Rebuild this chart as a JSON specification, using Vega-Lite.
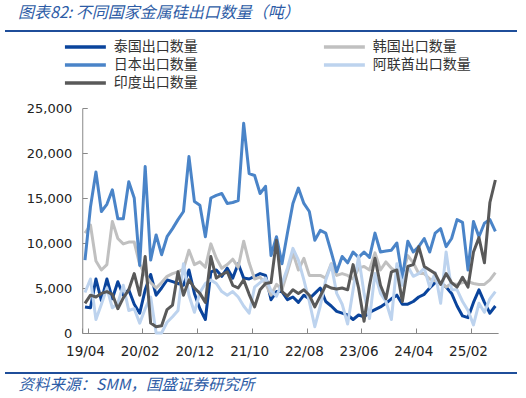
{
"$schema": "https://vega.github.io/schema/vega-lite/v6.json",
"width": 512, "height": 342,
"autosize": {"type": "none"},
"padding": {"left": 5, "top": 31, "right": 9, "bottom": 25},
"title": {"text": "图表82:  不同国家金属硅出口数量（吨）", "anchor": "start", "frame": "group", "dx": 13, "offset": 9, "font": "Noto Sans CJK SC", "fontSize": 16, "fontStyle": "italic", "fontWeight": "normal", "color": "#2d5ca6"},
"data": {"values": [
{"m":"19/04","th":2900,"kr":11100,"jp":8100,"ae":4500,"in":3300},
{"m":"19/05","th":2800,"kr":12000,"jp":14000,"ae":6000,"in":4200},
{"m":"19/06","th":6000,"kr":8000,"jp":17900,"ae":1500,"in":4000},
{"m":"19/07","th":3600,"kr":7000,"jp":13500,"ae":3200,"in":4400},
{"m":"19/08","th":6000,"kr":7600,"jp":14300,"ae":5000,"in":4600},
{"m":"19/09","th":3800,"kr":12400,"jp":15900,"ae":2800,"in":4300},
{"m":"19/10","th":5700,"kr":10500,"jp":12700,"ae":3300,"in":2700},
{"m":"19/11","th":4200,"kr":9900,"jp":12700,"ae":5300,"in":3900},
{"m":"19/12","th":4800,"kr":10100,"jp":16800,"ae":2500,"in":4800},
{"m":"20/01","th":3200,"kr":10100,"jp":15000,"ae":2700,"in":6600},
{"m":"20/02","th":2200,"kr":7600,"jp":7500,"ae":1100,"in":4200},
{"m":"20/03","th":4800,"kr":6500,"jp":18500,"ae":2700,"in":8500},
{"m":"20/04","th":6500,"kr":5600,"jp":8100,"ae":4000,"in":1100},
{"m":"20/05","th":4200,"kr":5000,"jp":10900,"ae":0,"in":700},
{"m":"20/06","th":5000,"kr":5600,"jp":8700,"ae":0,"in":800},
{"m":"20/07","th":5900,"kr":6300,"jp":10700,"ae":1200,"in":2600},
{"m":"20/08","th":5700,"kr":6600,"jp":11600,"ae":1800,"in":3100},
{"m":"20/09","th":5500,"kr":6800,"jp":12600,"ae":2500,"in":6800},
{"m":"20/10","th":5300,"kr":7100,"jp":13500,"ae":7700,"in":4200},
{"m":"20/11","th":7000,"kr":9200,"jp":19600,"ae":4200,"in":5900},
{"m":"20/12","th":4400,"kr":7600,"jp":14600,"ae":2300,"in":5000},
{"m":"21/01","th":2700,"kr":7900,"jp":14200,"ae":4500,"in":4400},
{"m":"21/02","th":1500,"kr":7300,"jp":10700,"ae":5500,"in":3400},
{"m":"21/03","th":6800,"kr":9900,"jp":15000,"ae":5900,"in":8500},
{"m":"21/04","th":7000,"kr":8300,"jp":15300,"ae":5500,"in":6100},
{"m":"21/05","th":6300,"kr":7200,"jp":15500,"ae":4600,"in":6500},
{"m":"21/06","th":7200,"kr":7600,"jp":14400,"ae":4200,"in":6800},
{"m":"21/07","th":6100,"kr":8200,"jp":14500,"ae":4600,"in":5300},
{"m":"21/08","th":7700,"kr":7300,"jp":14700,"ae":4000,"in":5000},
{"m":"21/09","th":6100,"kr":10200,"jp":23300,"ae":3000,"in":5900},
{"m":"21/10","th":6000,"kr":7800,"jp":17700,"ae":2200,"in":4300},
{"m":"21/11","th":6300,"kr":6000,"jp":17500,"ae":5100,"in":2900},
{"m":"21/12","th":6600,"kr":6200,"jp":15500,"ae":5600,"in":4800},
{"m":"22/01","th":6400,"kr":5500,"jp":16300,"ae":6100,"in":5500},
{"m":"22/02","th":3700,"kr":4200,"jp":8600,"ae":4700,"in":5600},
{"m":"22/03","th":4600,"kr":5400,"jp":10700,"ae":4100,"in":10300},
{"m":"22/04","th":4600,"kr":4800,"jp":7700,"ae":5500,"in":4600},
{"m":"22/05","th":3700,"kr":6800,"jp":11100,"ae":7200,"in":4100},
{"m":"22/06","th":4000,"kr":8900,"jp":14400,"ae":9400,"in":4800},
{"m":"22/07","th":3400,"kr":7000,"jp":16100,"ae":8100,"in":4400},
{"m":"22/08","th":4200,"kr":8300,"jp":14400,"ae":5900,"in":4800},
{"m":"22/09","th":3800,"kr":6400,"jp":13500,"ae":3500,"in":4200},
{"m":"22/10","th":4400,"kr":6400,"jp":10300,"ae":700,"in":2900},
{"m":"22/11","th":5000,"kr":6400,"jp":11400,"ae":3000,"in":4100},
{"m":"22/12","th":3500,"kr":6100,"jp":11100,"ae":5900,"in":5300},
{"m":"23/01","th":3000,"kr":7700,"jp":9000,"ae":7600,"in":5000},
{"m":"23/02","th":2400,"kr":6400,"jp":6800,"ae":4400,"in":4900},
{"m":"23/03","th":2200,"kr":6600,"jp":8500,"ae":3200,"in":5000},
{"m":"23/04","th":2000,"kr":6400,"jp":7800,"ae":1000,"in":4800},
{"m":"23/05","th":1500,"kr":6000,"jp":9000,"ae":4800,"in":7600},
{"m":"23/06","th":2000,"kr":7200,"jp":8400,"ae":8500,"in":5000},
{"m":"23/07","th":1800,"kr":7400,"jp":9000,"ae":4400,"in":1300},
{"m":"23/08","th":2300,"kr":7000,"jp":8400,"ae":1600,"in":5300},
{"m":"23/09","th":2600,"kr":8900,"jp":11100,"ae":6600,"in":8300},
{"m":"23/10","th":2900,"kr":7000,"jp":9000,"ae":4400,"in":5300},
{"m":"23/11","th":3300,"kr":7900,"jp":9100,"ae":3500,"in":3800},
{"m":"23/12","th":3800,"kr":7200,"jp":9200,"ae":1500,"in":6800},
{"m":"24/01","th":4200,"kr":6800,"jp":10000,"ae":7700,"in":7000},
{"m":"24/02","th":3200,"kr":6500,"jp":6100,"ae":5300,"in":3500},
{"m":"24/03","th":3200,"kr":8600,"jp":10200,"ae":7400,"in":7400},
{"m":"24/04","th":3500,"kr":7800,"jp":9000,"ae":6300,"in":7600},
{"m":"24/05","th":4000,"kr":6600,"jp":9600,"ae":6600,"in":9600},
{"m":"24/06","th":4300,"kr":6600,"jp":10500,"ae":7200,"in":7400},
{"m":"24/07","th":5000,"kr":6000,"jp":9000,"ae":5100,"in":7000},
{"m":"24/08","th":5600,"kr":5800,"jp":11100,"ae":6700,"in":6600},
{"m":"24/09","th":5600,"kr":5600,"jp":11600,"ae":3300,"in":5400},
{"m":"24/10","th":5100,"kr":5100,"jp":9600,"ae":9000,"in":6600},
{"m":"24/11","th":4400,"kr":5500,"jp":10500,"ae":4800,"in":5600},
{"m":"24/12","th":3000,"kr":5400,"jp":12600,"ae":4800,"in":5100},
{"m":"25/01","th":1900,"kr":5600,"jp":12300,"ae":3500,"in":6200},
{"m":"25/02","th":1700,"kr":5700,"jp":7000,"ae":2500,"in":5100},
{"m":"25/03","th":3400,"kr":5500,"jp":12400,"ae":900,"in":9000},
{"m":"25/04","th":4800,"kr":5400,"jp":10700,"ae":3300,"in":10600},
{"m":"25/05","th":3400,"kr":5400,"jp":12200,"ae":2300,"in":7800},
{"m":"25/06","th":2200,"kr":5900,"jp":12600,"ae":3800,"in":14500},
{"m":"25/07","th":3000,"kr":6700,"jp":11300,"ae":4600,"in":17000}
]},
"layer": [
{"layer": [
{"mark": {"type": "line", "strokeWidth": 3, "strokeJoin": "round"},
 "encoding": {
  "x": {"field": "m", "type": "ordinal", "sort": null, "bandPosition": 0.5, "scale": {"type": "band", "paddingInner": 0, "paddingOuter": 0, "range": [77.26, 493.1]},
        "axis": {"title": "资料来源：SMM，国盛证券研究所", "values": ["19/04","20/02","20/12","21/10","22/08","23/06","24/04","25/02"], "offset": -40, "tickBand": "extent", "tickSize": -5, "tickColor": "#888888", "domainColor": "#888888", "labelAngle": 0, "labelFont": "DejaVu Sans", "labelFontSize": 13.5, "labelColor": "#222222", "labelPadding": 16, "labelBaseline": "top", "grid": false, "titleX": 13, "titleY": 51, "titleAlign": "left", "titleBaseline": "middle", "titleFont": "Noto Sans CJK SC", "titleFontSize": 15.5, "titleFontStyle": "italic", "titleFontWeight": "normal", "titleColor": "#2d5ca6"}},
  "y": {"field": "th", "type": "quantitative", "scale": {"domain": [0, 25000], "nice": false, "range": [302, 77]},
        "axis": {"title": null, "values": [0,5000,10000,15000,20000,25000], "format": ",d", "offset": -77.26, "tickSize": -5, "tickColor": "#888888", "domainColor": "#888888", "labelFont": "DejaVu Sans", "labelFontSize": 13, "labelColor": "#222222", "labelPadding": 15.5, "grid": false}},
  "color": {"datum": "泰国出口数量", "type": "nominal",
            "scale": {"domain": ["泰国出口数量","日本出口数量","印度出口数量","韩国出口数量","阿联酋出口数量"], "range": ["#0a449c","#4a84c8","#595959","#c0c0c0","#bdd3ee"]},
            "legend": {"orient": "none", "legendX": 73.4, "legendY": 9, "columns": 2, "columnPadding": 118, "rowPadding": 4, "title": null, "symbolType": "M-5,0H5", "symbolSize": 67, "symbolStrokeWidth": 3.5, "labelFont": "Noto Sans CJK SC", "labelFontSize": 14, "labelColor": "#333333", "labelOffset": 21.4, "padding": 0, "labelLimit": 300}}
 }},
{"mark": {"type": "line", "strokeWidth": 3, "strokeJoin": "round"},
 "encoding": {
  "x": {"field": "m", "type": "ordinal", "sort": null, "bandPosition": 0.5},
  "y": {"field": "kr", "type": "quantitative", "scale": {"domain": [0, 25000], "nice": false, "range": [302, 77]},
        "axis": {"title": null, "values": [0,5000,10000,15000,20000,25000], "format": ",d", "offset": -77.26, "tickSize": -5, "tickColor": "#888888", "domainColor": "#888888", "labelFont": "DejaVu Sans", "labelFontSize": 13, "labelColor": "#222222", "labelPadding": 15.5, "grid": false}},
  "color": {"datum": "韩国出口数量", "type": "nominal"}
 }},
{"mark": {"type": "line", "strokeWidth": 3, "strokeJoin": "round"},
 "encoding": {
  "x": {"field": "m", "type": "ordinal", "sort": null, "bandPosition": 0.5},
  "y": {"field": "jp", "type": "quantitative", "scale": {"domain": [0, 25000], "nice": false, "range": [302, 77]},
        "axis": {"title": null, "values": [0,5000,10000,15000,20000,25000], "format": ",d", "offset": -77.26, "tickSize": -5, "tickColor": "#888888", "domainColor": "#888888", "labelFont": "DejaVu Sans", "labelFontSize": 13, "labelColor": "#222222", "labelPadding": 15.5, "grid": false}},
  "color": {"datum": "日本出口数量", "type": "nominal"}
 }},
{"mark": {"type": "line", "strokeWidth": 3, "strokeJoin": "round"},
 "encoding": {
  "x": {"field": "m", "type": "ordinal", "sort": null, "bandPosition": 0.5},
  "y": {"field": "ae", "type": "quantitative", "scale": {"domain": [0, 25000], "nice": false, "range": [302, 77]},
        "axis": {"title": null, "values": [0,5000,10000,15000,20000,25000], "format": ",d", "offset": -77.26, "tickSize": -5, "tickColor": "#888888", "domainColor": "#888888", "labelFont": "DejaVu Sans", "labelFontSize": 13, "labelColor": "#222222", "labelPadding": 15.5, "grid": false}},
  "color": {"datum": "阿联酋出口数量", "type": "nominal"}
 }},
{"mark": {"type": "line", "strokeWidth": 3, "strokeJoin": "round"},
 "encoding": {
  "x": {"field": "m", "type": "ordinal", "sort": null, "bandPosition": 0.5},
  "y": {"field": "in", "type": "quantitative", "scale": {"domain": [0, 25000], "nice": false, "range": [302, 77]},
        "axis": {"title": null, "values": [0,5000,10000,15000,20000,25000], "format": ",d", "offset": -77.26, "tickSize": -5, "tickColor": "#888888", "domainColor": "#888888", "labelFont": "DejaVu Sans", "labelFontSize": 13, "labelColor": "#222222", "labelPadding": 15.5, "grid": false}},
  "color": {"datum": "印度出口数量", "type": "nominal"}
 }}
]},
{"data": {"values": [{"edge": "top"}, {"edge": "bottom"}]},
 "mark": {"type": "rule", "color": "#1f4e9a", "strokeWidth": 2},
 "encoding": {"y": {"field": "edge", "type": "ordinal", "sort": null, "scale": {"type": "point", "padding": 0, "range": [0, 342]}, "axis": null}}}
],
"resolve": {"scale": {"y": "independent"}},
"config": {"view": {"stroke": null}}
}
